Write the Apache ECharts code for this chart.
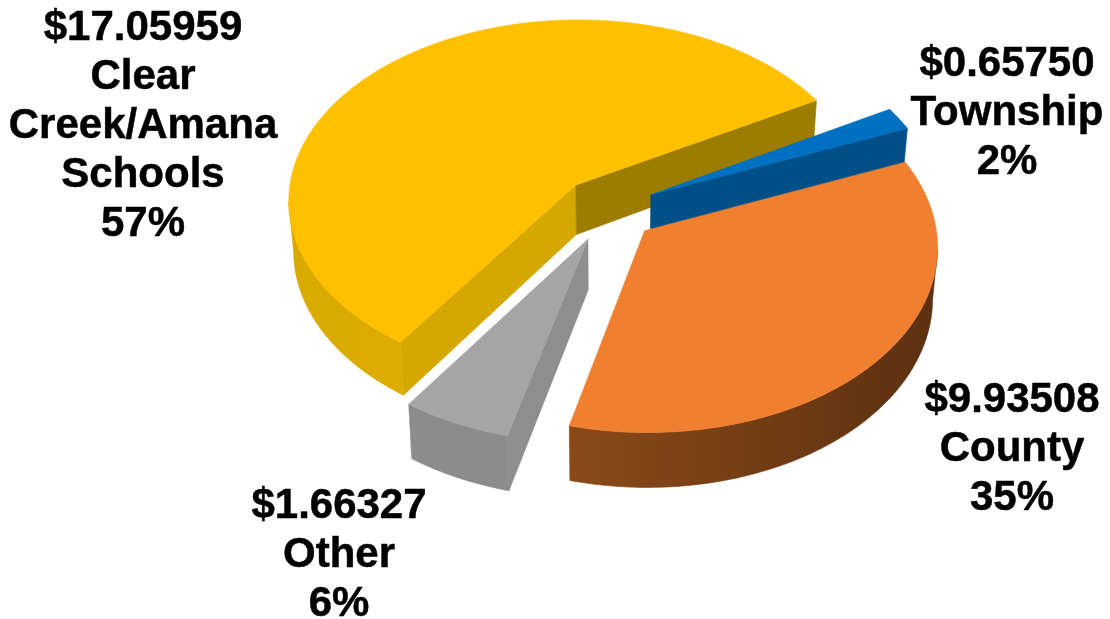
<!DOCTYPE html>
<html>
<head>
<meta charset="utf-8">
<style>html,body{margin:0;padding:0;background:#fff}#c{width:1110px;height:619px}</style>
<script src="https://cdn.jsdelivr.net/npm/echarts@6/dist/echarts.min.js"></script>
</head>
<body>
<div id="c"></div>
<script>
// Data
const categories = ['Clear\nCreek/Amana\nSchools', 'Township', 'County', 'Other'];
const amounts = ['$17.05959', '$0.65750', '$9.93508', '$1.66327'];
const percents = [57, 2, 35, 6];          // printed labels
const drawnShares = [57.2, 2, 35.2, 5.6]; // slice sizes as measured on the picture

// Colours: top, radial wall, rim gradient stops
const topColors = ['#FFC000', '#0070C0', '#F08030', '#A5A5A5'];
const wallColors = ['#9C7D00', '#004F88', '#8A4A18', '#949494'];
const leftWallColors = ['#D4A800', '#004F88', '#8A4A18', '#8E8E8E'];
const rimColors = [['#D8AA00', '#DDAC00'], ['#004F88', '#004F88'], ['#8A4A18', '#5C3010'], ['#8C8C8C', '#8C8C8C']];

// Scene layout (3D pie projection)
const cx = 608, cy = 209, R = 289, tilt = 0.63, persp = 0.08, depth = 50, converge = 0.0003;
const explodeX = 48, explodeV = 52;
const startAngle = 214.5;
// Label layout
const labelX = [143, 1007, 1012, 339];
const labelY = [126, 113, 449, 555];
const fontSize = 42, lineH = 49;

const rad = d => d * Math.PI / 180;
function project(x, v, z) {
  const s = 1 / (1 - persp * v / R);
  return [cx + s * x * (1 - converge * z), cy + s * (tilt * v + z)];
}
const total = drawnShares.reduce((a, b) => a + b, 0);
function sliceAngles(i) {
  let a = startAngle;
  for (let j = 0; j < i; j++) a += drawnShares[j] / total * 360;
  return [a, a + drawnShares[i] / total * 360];
}
function renderSlice(params, api) {
  const i = params.dataIndex;
  const [a0, a1] = sliceAngles(i);
  const mid = rad((a0 + a1) / 2);
  const ox = explodeX * Math.sin(mid), ov = -explodeV * Math.cos(mid);
  const pt = (a, z) => project(ox + R * Math.sin(rad(a)), ov - R * Math.cos(rad(a)), z);
  const apex = z => project(ox, ov, z);
  const n = Math.max(4, Math.ceil(a1 - a0));
  const arcAngles = [];
  for (let k = 0; k <= n; k++) arcAngles.push(a0 + (a1 - a0) * k / n);
  const children = [];
  const poly = (points, fill) => children.push({
    type: 'polygon', shape: { points }, silent: true,
    style: { fill, stroke: fill, lineWidth: 0.6 }
  });
  // radial walls, only when they face the viewer
  const P = apex(0), M = pt((a0 + a1) / 2, 0);
  [[a0, leftWallColors[i]], [a1, wallColors[i]]].forEach(([a, col]) => {
    const Q = pt(a, 0);
    const dx = Q[0] - P[0], dy = Q[1] - P[1];
    const side = dx * (M[1] - P[1]) - dy * (M[0] - P[0]);
    if (dx * side < 0) poly([apex(0), pt(a, 0), pt(a, depth), apex(depth)], col);
  });
  // outer rim: only the part of the arc running right-to-left on screen
  const vis = [];
  for (let k = 0; k < arcAngles.length - 1; k++) {
    if (pt(arcAngles[k + 1], 0)[0] < pt(arcAngles[k], 0)[0]) {
      if (!vis.length) vis.push(arcAngles[k]);
      vis.push(arcAngles[k + 1]);
    }
  }
  if (vis.length > 1) {
    const pts = vis.map(a => pt(a, 0)).concat(vis.slice().reverse().map(a => pt(a, depth)));
    poly(pts, {
      type: 'linear', x: 0, y: 0, x2: 1, y2: 0,
      colorStops: [{ offset: 0, color: rimColors[i][0] }, { offset: 1, color: rimColors[i][1] }]
    });
  }
  // top face
  poly([apex(0)].concat(arcAngles.map(a => pt(a, 0))), topColors[i]);
  return { type: 'group', children };
}
function renderLabel(params, api) {
  const i = params.dataIndex;
  return {
    type: 'text', silent: true,
    style: {
      x: labelX[i], y: labelY[i],
      text: amounts[i] + '\n' + categories[i] + '\n' + percents[i] + '%',
      fill: '#000', stroke: '#000', lineWidth: 0.5, align: 'center', verticalAlign: 'middle',
      font: 'bold ' + fontSize + 'px "Liberation Sans", Arial, sans-serif',
      lineHeight: lineH
    }
  };
}
const chart = echarts.init(document.getElementById('c'), null, { renderer: 'canvas' });
chart.setOption({
  animation: false,
  backgroundColor: '#fff',
  series: [
    { type: 'custom', coordinateSystem: 'none', renderItem: renderSlice, data: drawnShares, silent: true, z: 1 },
    { type: 'custom', coordinateSystem: 'none', renderItem: renderLabel, data: percents, silent: true, z: 2 }
  ]
});
</script>
</body>
</html>
